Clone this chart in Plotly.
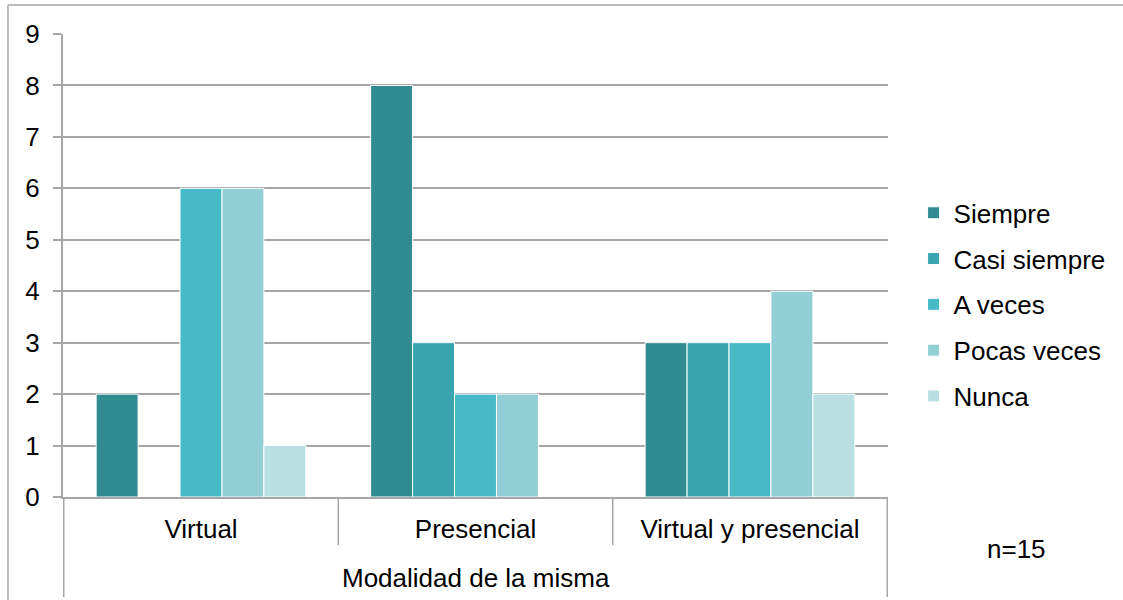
import plotly.graph_objects as go

# Categories and counts per response
categorias = ["Virtual", "Presencial", "Virtual y presencial"]
respuestas = ["Siempre", "Casi siempre", "A veces", "Pocas veces", "Nunca"]
siempre = [2, 8, 3]
casi_siempre = [0, 3, 3]
a_veces = [6, 2, 3]
pocas_veces = [6, 2, 4]
nunca = [1, 0, 2]
y_ticks = [0, 1, 2, 3, 4, 5, 6, 7, 8, 9]

valores = [siempre, casi_siempre, a_veces, pocas_veces, nunca]
colores = ["#318C91", "#3BA5AF", "#46BBC7", "#92CED6", "#B9DFE3"]

FONT = "Liberation Sans, Arial, sans-serif"
FS = 26
GRIS = "#A6A6A6"

fig = go.Figure()
for i, (nombre, vals, col) in enumerate(zip(respuestas, valores, colores)):
    fig.add_trace(go.Bar(
        name=nombre, x=categorias, y=vals,
        marker=dict(color=col, line=dict(color="white", width=1)),
        legendgroup=f"g{i}",
    ))

# Category separators below the axis and the outer axis lines
lineas = []
for xpos, ybot in [(-0.5, -0.216), (0.5, -0.104), (1.5, -0.104), (2.5, -0.216)]:
    lineas.append(dict(type="line", xref="x", yref="paper", x0=xpos, x1=xpos,
                       y0=0, y1=ybot, line=dict(color=GRIS, width=1.5)))
# Chart frame (top and left edges)
lineas.append(dict(type="line", xref="paper", yref="paper", x0=-0.0667, x1=1.285,
                   y0=1.0626, y1=1.0626, line=dict(color=GRIS, width=1.5)))
lineas.append(dict(type="line", xref="paper", yref="paper", x0=-0.0667, x1=-0.0667,
                   y0=1.0626, y1=-0.23, line=dict(color=GRIS, width=1.5)))

fig.update_layout(
    width=1123, height=600,
    margin=dict(l=63, r=235, t=34, b=103),
    paper_bgcolor="white", plot_bgcolor="white",
    barmode="group", bargap=0.236, bargroupgap=0,
    font=dict(family=FONT, size=FS, color="#000000"),
    shapes=lineas,
    legend=dict(x=1.031, y=0.415, xanchor="left", yanchor="middle",
                font=dict(size=FS), tracegroupgap=9, itemwidth=30,
                bgcolor="rgba(0,0,0,0)"),
    annotations=[
        dict(text="n=15", xref="paper", yref="paper", x=1.156, y=-0.112,
             xanchor="center", yanchor="middle", showarrow=False,
             font=dict(size=FS)),
        dict(text="Modalidad de la misma", xref="paper", yref="paper", x=0.5,
             y=-0.175, xanchor="center", yanchor="middle", showarrow=False,
             font=dict(size=FS)),
    ],
)
fig.update_xaxes(
    showline=True, linecolor=GRIS, linewidth=2, ticks="",
    showgrid=False, ticklabelstandoff=8,
    tickfont=dict(size=FS),
)
fig.update_yaxes(
    range=[0, 9], tickvals=y_ticks, showline=True, linecolor=GRIS, linewidth=2,
    ticks="outside", ticklen=8, tickcolor=GRIS, tickwidth=1.5,
    showgrid=True, gridcolor=GRIS, gridwidth=1.5, zeroline=False,
    ticklabelstandoff=8, tickfont=dict(size=FS),
)

fig.write_html("out.html")
